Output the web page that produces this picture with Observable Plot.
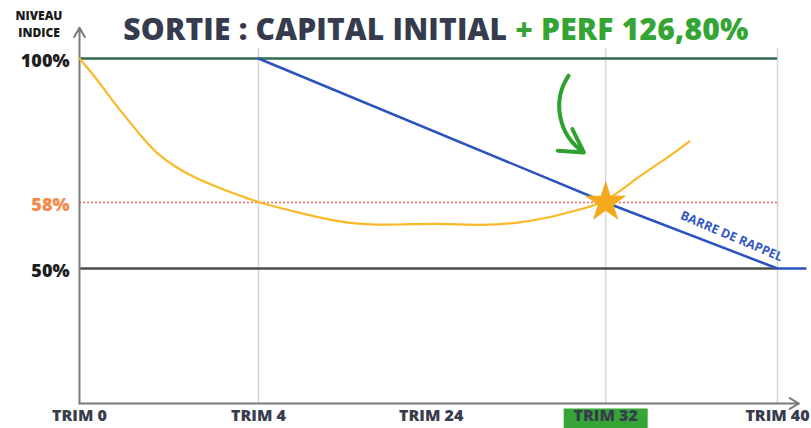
<!DOCTYPE html>
<html>
<head>
<meta charset="utf-8">
<script src="https://cdn.jsdelivr.net/npm/d3@7"></script>
<script src="https://cdn.jsdelivr.net/npm/@observablehq/plot@0.6"></script>
<style>
  html, body { margin: 0; padding: 0; background: #fff; }
  #wrap { position: relative; width: 811px; height: 428px; overflow: hidden; font-family: "Open Sans", sans-serif; }
  #title { position: absolute; top: 8px; left: 436px; transform: translateX(-50%); font-size: 30px; font-weight: 800; color: #363b4e; white-space: nowrap; letter-spacing: 0.2px; z-index: 2; }
  #title .perf { color: #34a534; }
  .ylab { position: absolute; left: 6px; width: 66px; text-align: center; font-size: 12px; font-weight: 800; line-height: 12px; height: 12px; color: #1a1a1a; z-index: 2; }
  svg { position: absolute; top: 0; left: 0; }
</style>
</head>
<body>
<div id="wrap">
  <div id="title">SORTIE : CAPITAL INITIAL <span class="perf">+ PERF 126,80%</span></div>
  <div class="ylab" style="top:10px">NIVEAU</div>
  <div class="ylab" style="top:27px">INDICE</div>
</div>
<script>
// Tick values (trimesters) and labels
const xTicks = [0, 4, 24, 32, 40];
const xTickLabels = ["TRIM 0", "TRIM 4", "TRIM 24", "TRIM 32", "TRIM 40"];
const yTicks = [100, 58, 50];
const yTickLabels = ["100%", "58%", "50%"];
const highlightTrim = [32];
const gridTrims = [4, 32, 40];

// Index level path (yellow curve)
const indexTrim  = [0, 0.36, 0.65, 1.03, 1.4, 1.77, 2.15, 2.52, 2.89, 3.26, 3.64, 4, 8.9, 14.6, 20.4, 24.3, 26.4, 28.0, 29.5, 31.0, 32, 33.6, 34.9, 35.9];
const indexLevel = [100, 94.5, 89.2, 82.9, 77.0, 71.7, 68.3, 65.6, 63.5, 61.5, 59.8, 58, 56.7, 55.3, 55.3, 55.5, 55.2, 55.5, 56.2, 57.3, 58, 65.9, 71.1, 75.8];

// Recall barrier (blue line)
const barrierTrim  = [4, 32, 40, 41.3];
const barrierLevel = [100, 58, 50, 50];

// Reference levels
const capitalLevel = 100;
const exitLevel = 58;
const protectionLevel = 50;

// Exit point
const exitTrim = 32;
const barrierLabel = ["BARRE DE RAPPEL"];

const indexData = indexTrim.map((t, i) => ({t, v: indexLevel[i]}));
const barrierData = barrierTrim.map((t, i) => ({t, v: barrierLevel[i]}));

// The schematic axes are not to scale: piecewise transforms applied before Plot's linear scales
const xWarp = d3.scaleLinear().domain(xTicks).range([0, 1, 1.965, 2.94, 3.9]);
const yWarp = d3.scaleLinear().domain([0, 50, 58, 100]).range([0, 135, 201, 345]);

const rectSymbol = { draw(ctx, size) { ctx.rect(-42, -10, 84, 20); } };

const chart = Plot.plot({
  width: 811,
  height: 428,
  marginLeft: 79,
  marginRight: 0,
  marginTop: 48,
  marginBottom: 25,
  style: { fontFamily: "'Open Sans', sans-serif", background: "transparent", overflow: "visible" },
  x: { transform: xWarp, domain: [0, 3.9], range: [79, 777], axis: null },
  y: { transform: yWarp, domain: [0, 345], range: [403, 58], axis: null },
  marks: [
    // gridlines
    Plot.ruleX(gridTrims, { x: d => d, stroke: "#d6d6d6", strokeWidth: 1.5 }),
    // reference lines
    Plot.ruleY([capitalLevel], { y: d => d, x1: 0, x2: 40, stroke: "#2f6a4c", strokeWidth: 2.5 }),
    Plot.ruleY([exitLevel], { y: d => d, x1: 0, x2: 40, stroke: "#f26a6a", strokeWidth: 1.5, strokeDasharray: "2,2" }),
    Plot.ruleY([protectionLevel], { y: d => d, x1: 0, x2: 40, stroke: "#4d4d4d", strokeWidth: 2.5 }),
    // axes
    Plot.arrow([0], { x1: 0, y1: 0, x2: 41, y2: 0, stroke: "#7a7a7a", strokeWidth: 2, headLength: 8 }),
    Plot.arrow([0], { x1: 0, y1: 0, x2: 0, y2: 109, stroke: "#7a7a7a", strokeWidth: 2, headLength: 8 }),
    // barrier
    Plot.line(barrierData, { x: "t", y: "v", stroke: "#2c52c2", strokeWidth: 2.5 }),
    Plot.text(barrierLabel, { x: 37.86, y: 53.9, text: d => d, rotate: 23, fill: "#3459c4", fontSize: 12.5, fontWeight: 700 }),
    // index curve
    Plot.line(indexData, { x: "t", y: "v", stroke: "#f9b928", strokeWidth: 2.2, curve: "basis" }),
    // exit star
    Plot.dot([exitTrim], { x: d => d, y: exitLevel, symbol: "star", r: 13, fill: "#f5a91d", stroke: "none" }),
    // green curved arrow
    Plot.arrow([0], { x1: 30.3, y1: 95, x2: 31.0, y2: 72.6, bend: -45, stroke: "#2ea22e", strokeWidth: 4, headLength: 14 }),
    // y tick labels
    Plot.text(yTicks, { y: d => d, frameAnchor: "left", dx: -10, dy: 3, textAnchor: "end", text: (d, i) => yTickLabels[i],
      fill: d => d === exitLevel ? "#f5894a" : "#1e1e1e", fontSize: 18, fontWeight: 800 }),
    // x tick highlight box
    Plot.dot(highlightTrim, { x: d => d, frameAnchor: "bottom", dy: 15, symbol: rectSymbol, fill: "#35a535", stroke: "none" }),
    // x tick labels
    Plot.text(xTicks, { x: d => d, frameAnchor: "bottom", dy: 17, text: (d, i) => xTickLabels[i],
      fill: "#383d4d", fontSize: 16, fontWeight: 800 })
  ]
});
document.getElementById("wrap").prepend(chart);
</script>
</body>
</html>
